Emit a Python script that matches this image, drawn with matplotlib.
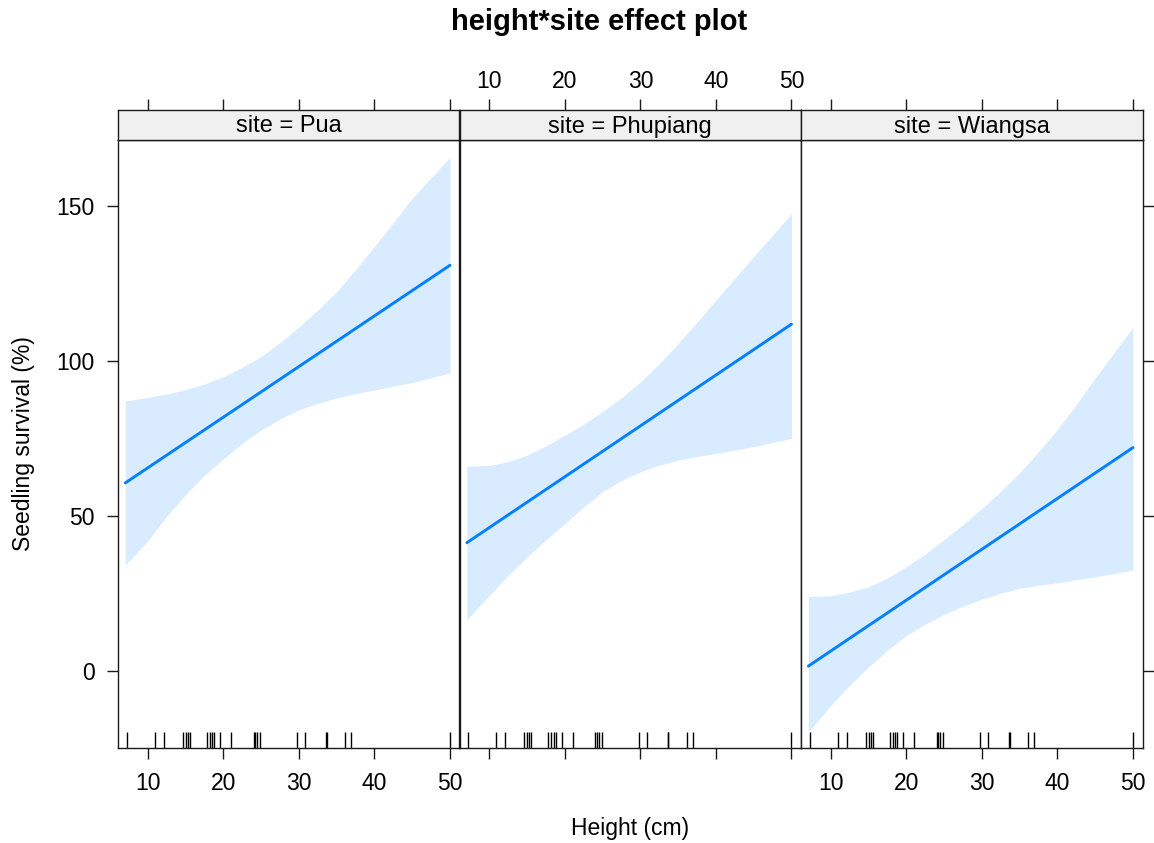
import matplotlib
matplotlib.use("Agg")
import matplotlib.pyplot as plt

plt.rcParams['font.family'] = ['Liberation Sans', 'DejaVu Sans']

# ---- data -------------------------------------------------------------
sites = ["Pua", "Phupiang", "Wiangsa"]

# seedling height grid (cm) at which the fitted effect is evaluated
height_grid = [7, 10, 12.5, 15, 17.5, 20, 22.5, 25, 27.5, 30,
               32.5, 35, 37.5, 40, 42.5, 45, 47.5, 50]

# fitted seedling survival (%) at the ends of the height range
fit_ends = [7, 50]
fit_pua = [60.7, 130.9]
fit_phupiang = [41.4, 111.9]
fit_wiangsa = [1.6, 72.1]

# 95% confidence band (lower / upper) along height_grid
lower_pua = [34.2, 42.1, 50.0, 57.0, 63.2, 68.5, 73.5, 77.8, 81.3, 84.3,
             86.4, 88.1, 89.5, 90.7, 91.9, 93.1, 94.6, 96.2]
upper_pua = [87.1, 88.3, 89.4, 90.8, 92.6, 95.0, 98.0, 101.5, 106.0, 111.0,
             116.5, 122.4, 129.5, 137.0, 144.7, 152.5, 159.2, 165.7]

lower_phupiang = [16.5, 24.5, 30.9, 36.9, 42.4, 47.6, 53.0, 57.9, 61.5, 64.3,
                  66.4, 68.1, 69.2, 70.2, 71.3, 72.4, 73.7, 75.1]
upper_phupiang = [66.1, 66.3, 67.6, 69.7, 72.6, 76.1, 79.7, 83.7, 88.2, 93.3,
                  99.2, 105.7, 112.6, 119.7, 126.7, 133.7, 140.6, 147.6]

lower_wiangsa = [-19.6, -11.0, -4.5, 1.4, 6.8, 11.5, 15.2, 18.3, 21.0, 23.2,
                 25.1, 26.7, 27.7, 28.5, 29.5, 30.4, 31.5, 32.6]
upper_wiangsa = [24.0, 24.3, 25.5, 27.2, 30.0, 33.7, 37.8, 42.5, 47.3, 52.5,
                 58.0, 64.0, 70.8, 78.0, 86.0, 94.5, 102.8, 110.9]

# observed heights shown as a rug
heights_obs = [7.2, 10.9, 12.1, 14.6, 15.0, 15.3, 15.5, 17.8, 18.2, 18.5,
               18.8, 19.6, 21.0, 24.0, 24.2, 24.5, 24.9, 29.8, 30.8, 33.6,
               33.7, 36.1, 36.9, 50.0]

x_ticks = [10, 20, 30, 40, 50]
y_ticks = [0, 50, 100, 150]

fits = [fit_pua, fit_phupiang, fit_wiangsa]
lowers = [lower_pua, lower_phupiang, lower_wiangsa]
uppers = [upper_pua, upper_phupiang, upper_wiangsa]

# ---- layout -----------------------------------------------------------
W, H = 1154, 843
fig = plt.figure(figsize=(W / 100, H / 100), dpi=100)

line_col = "#0080FF"
band_col = "#D9ECFF"
frame_col = "#1A1A1A"
tick_fs = 16.5
tick_len = 8

x_lo, x_hi = 6.03, 51.26
y_lo, y_hi = -24.8, 171.3

panel_left = [118, 459.5, 801]
panel_w = 341.5
panel_top, panel_bot = 140, 748
strip_top = 110

for i, site in enumerate(sites):
    left = panel_left[i] / W
    ax = fig.add_axes([left, 1 - panel_bot / H, panel_w / W,
                       (panel_bot - panel_top) / H])
    sax = fig.add_axes([left, 1 - panel_top / H, panel_w / W,
                        (panel_top - strip_top) / H])

    # confidence band and fitted line
    ax.fill_between(height_grid, lowers[i], uppers[i], color=band_col,
                    linewidth=0)
    ax.plot(fit_ends, fits[i], color=line_col, linewidth=2.1,
            solid_capstyle="round")

    # rug of observed heights
    ax.vlines(heights_obs, 0, 0.026, transform=ax.get_xaxis_transform(),
              color="black", linewidth=1.0)

    ax.set_xlim(x_lo, x_hi)
    ax.set_ylim(y_lo, y_hi)

    for sp in ax.spines.values():
        sp.set_color(frame_col)
        sp.set_linewidth(1.0)

    # x axis: labels on the outer panels at the bottom
    ax.set_xticks(x_ticks)
    ax.tick_params(axis="x", direction="out", length=tick_len, width=1,
                   color=frame_col, labelsize=tick_fs, pad=9,
                   labelbottom=(i != 1), top=False)

    # y axis: labels on the left panel, bare ticks on the right panel
    ax.set_yticks(y_ticks)
    if i == 0:
        ax.tick_params(axis="y", direction="out", length=tick_len, width=1,
                       color=frame_col, labelsize=tick_fs, pad=9,
                       left=True, right=False)
    elif i == 2:
        ax.tick_params(axis="y", direction="out", length=tick_len, width=1,
                       color=frame_col, left=False, right=True,
                       labelleft=False, labelright=False)
    else:
        ax.tick_params(axis="y", left=False, right=False, labelleft=False)

    # strip naming the site; the middle one carries the top axis labels
    sax.set_facecolor("#F0F0F0")
    sax.set_xlim(x_lo, x_hi)
    sax.set_ylim(0, 1)
    sax.set_yticks([])
    sax.set_xticks(x_ticks)
    sax.xaxis.tick_top()
    sax.tick_params(axis="x", direction="out", length=tick_len, width=1,
                    color=frame_col, labelsize=tick_fs, pad=4.5,
                    bottom=False, labelbottom=False,
                    top=True, labeltop=(i == 1))
    for sp in sax.spines.values():
        sp.set_color(frame_col)
        sp.set_linewidth(1.0)
    sax.text(0.5, 0.45, f"site = {site}", transform=sax.transAxes,
             ha="center", va="center", fontsize=17, color="black")

# ---- titles -----------------------------------------------------------
fig.text(0.519, 1 - 22 / H, "height*site effect plot", ha="center",
         va="center", fontsize=21, fontweight="bold")
fig.text(630 / W, 1 - 828 / H, "Height (cm)", ha="center", va="center",
         fontsize=16.5)
fig.text(24 / W, 1 - 444 / H, "Seedling survival (%)", ha="center",
         va="center", rotation=90, fontsize=16.5)

fig.savefig("out.png", dpi=100, facecolor="white")
